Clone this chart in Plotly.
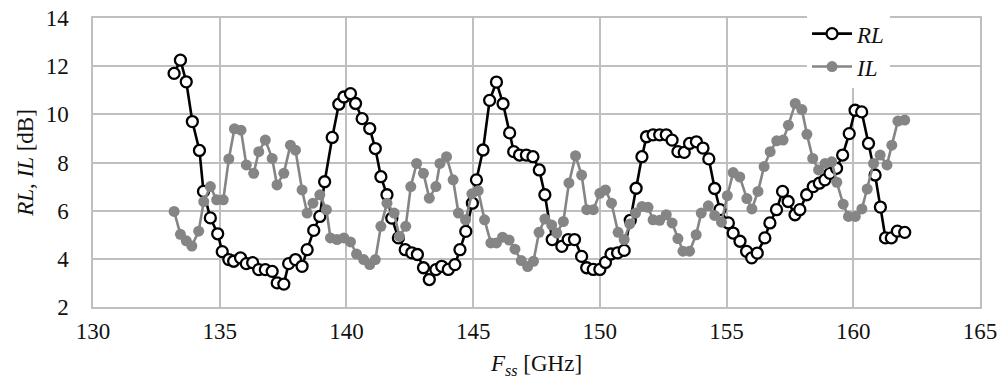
import plotly.graph_objects as go

rl_f = [133.2, 133.45, 133.68, 133.92, 134.2, 134.36, 134.63, 134.92, 135.1, 135.36, 135.55, 135.82,
        136.05, 136.3, 136.54, 136.8, 137.07, 137.27, 137.53, 137.72, 137.99, 138.25, 138.45, 138.71,
        138.95, 139.14, 139.44, 139.7, 139.9, 140.16, 140.36, 140.62, 140.92, 141.14, 141.36, 141.6,
        141.79, 142.05, 142.32, 142.58, 142.8, 143.04, 143.27, 143.53, 143.76, 144.02, 144.28, 144.48,
        144.71, 144.97, 145.13, 145.39, 145.65, 145.92, 146.18, 146.44, 146.6, 146.83, 147.1, 147.36,
        147.61, 147.83, 148.12, 148.5, 148.75, 149.0, 149.28, 149.48, 149.74, 150.0, 150.22, 150.44,
        150.7, 150.96, 151.2, 151.43, 151.66, 151.84, 152.1, 152.36, 152.62, 152.85, 153.08, 153.33,
        153.54, 153.81, 154.07, 154.3, 154.53, 154.74, 155.07, 155.26, 155.53, 155.79, 155.99, 156.21,
        156.51, 156.71, 156.97, 157.21, 157.43, 157.7, 157.89, 158.16, 158.42, 158.66, 158.88, 159.08,
        159.34, 159.58, 159.84, 160.07, 160.33, 160.6, 160.86, 161.07, 161.27, 161.5, 161.74, 162.03]
rl_v = [11.7, 12.25, 11.35, 9.7, 8.5, 6.8, 5.7, 5.04, 4.3, 3.97, 3.9, 4.04,
        3.8, 3.84, 3.55, 3.55, 3.48, 3.0, 2.95, 3.8, 3.97, 3.69, 4.38, 5.18,
        5.76, 7.2, 9.04, 10.42, 10.72, 10.86, 10.45, 9.82, 9.41, 8.58, 7.41, 6.66,
        5.69, 4.87, 4.38, 4.25, 4.18, 3.63, 3.14, 3.55, 3.69, 3.56, 3.76, 4.38,
        5.14, 6.31, 7.28, 8.52, 10.58, 11.34, 10.44, 9.23, 8.45, 8.31, 8.31, 8.24,
        7.69, 6.66, 4.8, 4.52, 4.8, 4.8, 4.1, 3.63, 3.56, 3.56, 3.85, 4.2,
        4.25, 4.35, 5.6, 6.93, 8.24, 9.07, 9.15, 9.15, 9.15, 8.93, 8.45, 8.42,
        8.79, 8.86, 8.6, 8.15, 6.92, 6.04, 5.49, 5.07, 4.73, 4.31, 4.04, 4.24,
        4.87, 5.49, 6.04, 6.8, 6.38, 5.83, 6.04, 6.66, 7.0, 7.14, 7.28, 7.55,
        7.76, 8.31, 9.2, 10.17, 10.1, 8.79, 7.48, 6.15, 4.87, 4.87, 5.15, 5.1]

il_f = [133.2, 133.45, 133.68, 133.9, 134.17, 134.37, 134.63, 134.88, 135.14, 135.36, 135.58, 135.84,
        136.05, 136.34, 136.54, 136.8, 137.07, 137.26, 137.53, 137.79, 137.99, 138.25, 138.45, 138.68,
        138.95, 139.21, 139.37, 139.63, 139.9, 140.16, 140.4, 140.68, 140.92, 141.14, 141.36, 141.6,
        141.88, 142.09, 142.34, 142.54, 142.77, 143.04, 143.27, 143.53, 143.69, 143.95, 144.21, 144.42,
        144.7, 144.95, 145.2, 145.45, 145.7, 145.92, 146.16, 146.42, 146.65, 146.9, 147.15, 147.38,
        147.6, 147.83, 148.1, 148.3, 148.56, 148.78, 149.04, 149.28, 149.48, 149.74, 150.0, 150.22,
        150.46, 150.72, 150.96, 151.18, 151.41, 151.66, 151.9, 152.1, 152.36, 152.62, 152.85, 153.08,
        153.28, 153.54, 153.8, 154.0, 154.28, 154.53, 154.8, 155.03, 155.26, 155.52, 155.8, 156.0,
        156.24, 156.48, 156.72, 156.98, 157.23, 157.44, 157.71, 157.97, 158.17, 158.4, 158.63, 158.89,
        159.15, 159.35, 159.6, 159.81, 160.08, 160.34, 160.55, 160.8, 161.06, 161.33, 161.52, 161.76, 162.03]
il_v = [5.97, 5.02, 4.75, 4.53, 5.15, 6.38, 7.0, 6.45, 6.45, 8.15, 9.4, 9.34,
        7.9, 7.55, 8.45, 8.93, 8.17, 7.07, 7.55, 8.72, 8.51, 6.86, 5.9, 6.31,
        6.66, 6.04, 4.87, 4.8, 4.87, 4.7, 4.2, 3.97, 3.76, 3.97, 5.35, 6.31,
        5.9, 4.93, 5.35, 7.0, 7.96, 7.55, 6.52, 7.0, 7.96, 8.24, 7.28, 5.9,
        5.62, 6.7, 6.83, 5.62, 4.66, 4.66, 4.9, 4.78, 4.4, 3.93, 3.68, 3.9,
        5.1, 5.65, 5.4, 5.07, 5.55, 7.15, 8.28, 7.48, 6.04, 6.04, 6.72, 6.86,
        6.31, 5.1, 4.8, 5.45, 5.9, 6.17, 6.14, 5.62, 5.6, 5.83, 5.49, 4.84,
        4.32, 4.32, 5.0, 5.9, 6.2, 5.8, 5.52, 6.62, 7.58, 7.4, 6.5, 6.07,
        6.8, 7.83, 8.45, 8.9, 8.93, 9.55, 10.45, 10.2, 9.17, 8.17, 7.69, 7.96,
        8.03, 7.18, 6.27, 5.76, 5.76, 6.07, 6.9, 7.96, 8.31, 7.9, 8.72, 9.72, 9.76]

x_ticks = [130, 135, 140, 145, 150, 155, 160, 165]
y_ticks = [2, 4, 6, 8, 10, 12, 14]

FONT = "Liberation Serif"
TXT = "#111111"
GRID = "#bfbfbf"
GRAY = "#858585"

fig = go.Figure()
fig.add_trace(go.Scatter(
    x=rl_f, y=rl_v, name="<i>RL</i>", mode="lines+markers",
    line=dict(color="black", width=2.6),
    marker=dict(symbol="circle", size=11, color="white", line=dict(color="black", width=2.3)),
))
fig.add_trace(go.Scatter(
    x=il_f, y=il_v, name="<i>IL</i>", mode="lines+markers",
    line=dict(color=GRAY, width=2.6),
    marker=dict(symbol="circle", size=11, color=GRAY, line=dict(width=0)),
))

fig.update_layout(
    width=1003, height=382,
    margin=dict(l=93, r=23, t=18, b=75, autoexpand=False),
    paper_bgcolor="white", plot_bgcolor="white",
    font=dict(family=FONT, size=23, color=TXT),
    showlegend=True,
    legend=dict(
        x=0.805, y=1.02, xanchor="left", yanchor="top",
        bgcolor="white", borderwidth=0,
        font=dict(family=FONT, size=23, color=TXT),
        tracegroupgap=0, itemwidth=40,
    ),
)
fig.update_xaxes(
    range=[130, 165], tickvals=x_ticks, ticktext=[str(t) for t in x_ticks],
    showgrid=True, gridcolor=GRID, gridwidth=1.5,
    showline=True, linecolor=GRID, linewidth=1.5, mirror=True,
    zeroline=False, ticks="", ticklabelstandoff=3, automargin=False,
    title=dict(text="<i>F<sub>ss</sub></i> [GHz]", standoff=12,
               font=dict(family=FONT, size=23, color=TXT)),
)
fig.update_yaxes(
    range=[2, 14], tickvals=y_ticks, ticktext=[str(t) for t in y_ticks],
    showgrid=True, gridcolor=GRID, gridwidth=1.5,
    showline=True, linecolor=GRID, linewidth=1.5, mirror=True,
    zeroline=False, ticks="", ticklabelstandoff=18, automargin=False,
    title=dict(text="<i>RL</i>, <i>IL</i> [dB]", standoff=6,
               font=dict(family=FONT, size=23, color=TXT)),
)

fig.write_html("out.html", config={"displayModeBar": False},
               post_script="document.body.style.margin='0';document.body.style.padding='0';")
